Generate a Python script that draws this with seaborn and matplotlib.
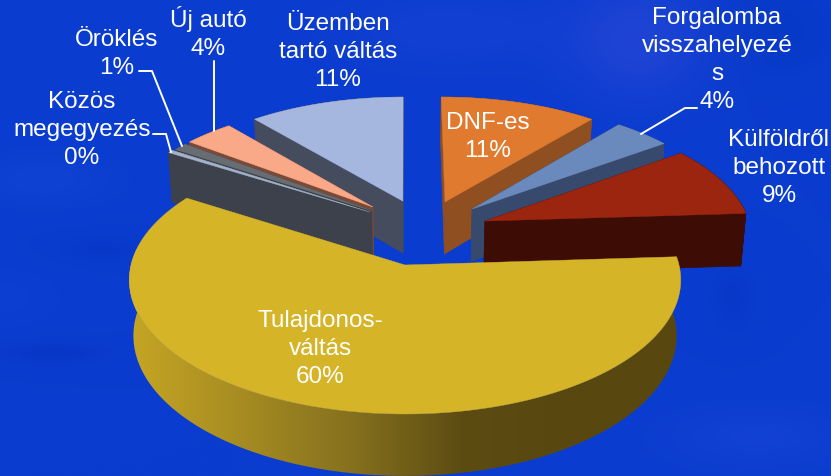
import numpy as np
import matplotlib
matplotlib.use("Agg")
import matplotlib.pyplot as plt
from matplotlib.patches import Polygon
import seaborn as sns

categories = ["DNF-es", "Forgalomba visszahelyezés", "Külföldről behozott", "Tulajdonosváltás",
              "Közös megegyezés", "Öröklés", "Új autó", "Üzemben tartó váltás"]
shares = [11, 4, 9, 60, 0.4, 1, 3.6, 11]
top_colors = ["#E07A2E", "#6A8ABD", "#9C2510", "#D6B427", "#A3B2C9", "#686D73", "#F9A888", "#A6B7DF"]
side_colors = ["#8F4F20", "#374A6D", "#3D0C05", "#8A7520", "#3D414B", "#3D414B", "#7A4A36", "#454C5E"]
yellow_side = ["#C4A424", "#A58B22", "#85701E", "#5C4C12", "#584810", "#584810"]
labels = ["DNF-es\n11%", "Forgalomba\nvisszahelyezé\ns\n4%", "Külföldről\nbehozott\n9%",
          "Tulajdonos-\nváltás\n60%", "Közös\nmegegyezés\n0%", "Öröklés\n1%", "Új autó\n4%",
          "Üzemben\ntartó váltás\n11%"]
label_xy = [(488, 137), (717, 60), (779, 168), (320, 349), (82, 130), (117, 54), (208, 33), (338, 52)]
centers = [(.154, .503), (.257, .444), (.303, .345), (0, 0), (-.134, .419), (-.127, .43), (-.123, .461), (-.008, .51)]
radii = [.977, .985, 1, 1, .97, .965, .95, .97]
draw_order = [7, 0, 6, 5, 4, 1, 2, 3]

X0, Y0, RX, A, K, D = 405, 266, 274, 132.3, .112, 55


def project(u, y, z):
    v = -y
    w = 1 - K * v
    return np.column_stack([X0 + RX * u / w * (1 - .015 * z), Y0 + (A * v + D * z) / w])


sns.set_theme(style="white")
plt.rcParams["font.family"] = ["Liberation Sans", "DejaVu Sans"]
fig = plt.figure(figsize=(8.31, 4.77), dpi=100)
ax = fig.add_axes([0, 0, 1, 1])

wedges, _ = ax.pie(shares, colors=top_colors, startangle=90, counterclock=False)
for w, c, r in zip(wedges, centers, radii):
    w.set_center(c)
    w.set_radius(r)
    w.set_visible(False)

ax.set_aspect("auto")
ax.axis("off")

# soft background texture
yy, xx = np.mgrid[0:477:120j, 0:831:210j]
bg = np.zeros(xx.shape + (3,)) + np.array([10, 60, 207]) / 255
for (cx_, cy_, sx, sy, d) in [(640, 40, 70, 60, (.08, .03, .02)), (760, 440, 90, 30, (.03, .02, .015)),
                              (450, 30, 120, 40, (.03, .015, .01)), (780, 30, 60, 50, (-.01, -.01, -.03)),
                              (40, 180, 70, 25, (.02, .02, .01)), (50, 355, 50, 10, (-.01, -.02, -.04)),
                              (100, 250, 40, 12, (-.01, -.015, -.03)), (735, 300, 20, 30, (-.01, -.015, -.03)),
                              (0, 300, 60, 30, (.01, .015, .01))]:
    g = np.exp(-((xx - cx_) / sx) ** 2 - ((yy - cy_) / sy) ** 2)
    bg += g[..., None] * np.array(d)
bg = np.clip(bg, 0, 1)
ax.imshow(bg, extent=(0, 831, 477, 0), aspect="auto", interpolation="bicubic", zorder=0)

gradient = sns.blend_palette(yellow_side, 256)
zo = 1
for i in draw_order:
    wd = wedges[i]
    th = np.radians(np.linspace(wd.theta1, wd.theta2, 181))
    cx, cy = wd.center
    us = np.r_[cx, cx + wd.r * np.cos(th)]
    ys = np.r_[cy, cy + wd.r * np.sin(th)]
    top, bot = project(us, ys, 0), project(us, ys, 1)
    n = len(us)
    if i == 3:
        band = Polygon(np.vstack([top[1:], bot[1:][::-1]]), closed=True, transform=ax.transData,
                       facecolor="none", edgecolor="none")
        ax.add_patch(band)
        img = ax.imshow(np.array(gradient)[None, :, :], extent=(135, 681, 477, 250), aspect="auto",
                        interpolation="bilinear", zorder=zo)
        img.set_clip_path(band)
        wide = ax.imshow(np.array(gradient)[None, [0, 0], :], extent=(120, 135, 477, 250), aspect="auto", zorder=zo)
        wide.set_clip_path(band)
    else:
        quads = []
        for a in range(n):
            b = (a + 1) % n
            quads.append((top[a, 1] + top[b, 1], np.array([top[a], top[b], bot[b], bot[a]])))
        quads.sort(key=lambda q: q[0])
        for _, q in quads:
            col = side_colors[i]
            ax.add_patch(Polygon(q, closed=True, facecolor=col, edgecolor=col, lw=.4, zorder=zo))
    ax.add_patch(Polygon(top, closed=True, facecolor=top_colors[i], edgecolor=top_colors[i], lw=.3, zorder=zo + .5))
    zo += 1

for txt, (x, y) in zip(labels, label_xy):
    ax.text(x, y, txt, color="white", fontsize=17.5, ha="center", va="center", linespacing=1.36, zorder=20)

leaders = [([139, 152, 182], [72, 72, 147]), ([214, 214], [62, 132]),
           ([153, 166, 171], [135, 135, 153]), ([697, 685, 641], [109, 109, 135])]
for lx, ly in leaders:
    ax.plot(lx, ly, color="white", lw=1.4, zorder=21, solid_joinstyle="miter")

ax.set_xlim(0, 831)
ax.set_ylim(477, 0)
fig.savefig("out.png", dpi=100)
